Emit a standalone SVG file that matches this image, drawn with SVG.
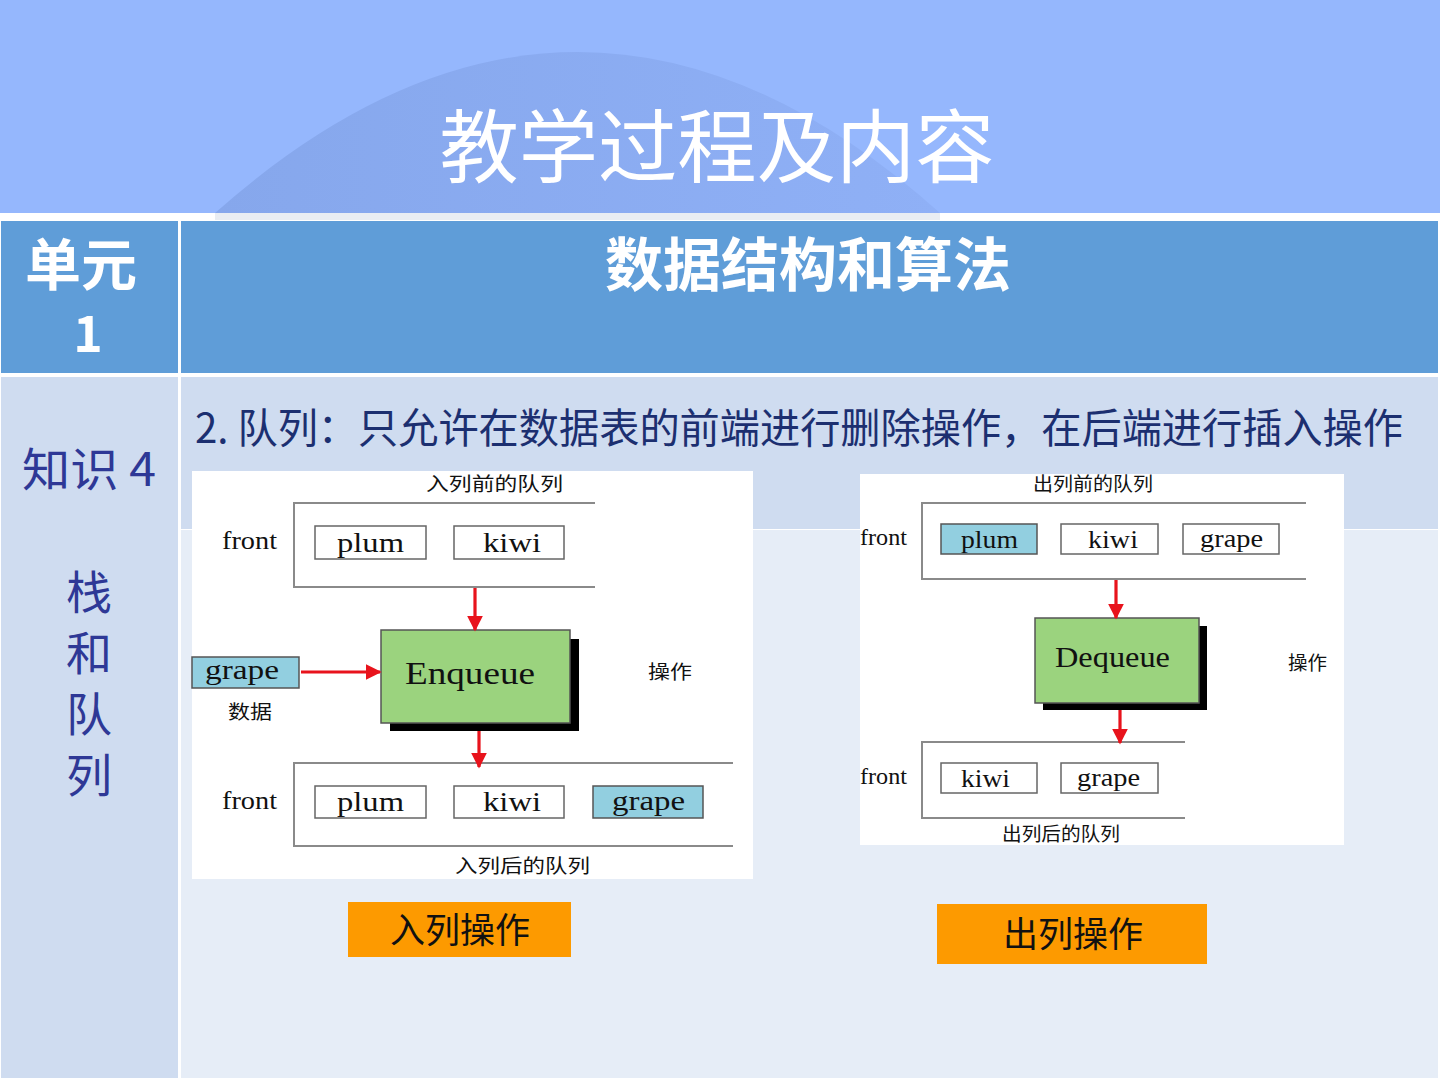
<svg xmlns="http://www.w3.org/2000/svg" width="1440" height="1080" viewBox="0 0 1440 1080">
<defs>
<linearGradient id="arch" x1="0" y1="0" x2="1" y2="0">
<stop offset="0" stop-color="#86a7ec"/>
<stop offset="1" stop-color="#8fb0f6"/>
</linearGradient>
<marker id="ah" viewBox="0 0 10 10" refX="9" refY="5" markerWidth="5" markerHeight="5" orient="auto" markerUnits="strokeWidth">
<path d="M0,0 L10,5 L0,10 Z" fill="#e8131c"/>
</marker>
<style>
.cjk{font-family:"Noto Sans CJK SC","Noto Sans",sans-serif}
.ser{font-family:"Liberation Serif","Times New Roman",serif;fill:#111}
.cell{stroke:#666;stroke-width:1.5;fill:#fff}
.cont{fill:none;stroke:#8a8a8a;stroke-width:2}
.arr{stroke:#e8131c;stroke-width:3.2;fill:none;marker-end:url(#ah)}
.green{fill:#9bd37e;stroke:#555;stroke-width:1.5}
.lbl{font-size:19px;fill:#111}
.left{font-size:46px;fill:#2e3896}
</style>
</defs>
<rect x="0" y="0" width="1440" height="1080" fill="#ffffff"/>
<rect x="0" y="0" width="1440" height="213" fill="#95b7fd"/>
<path d="M215,213 Q578,-109 940,213 Z" fill="url(#arch)"/>
<rect x="215" y="213" width="725" height="7" fill="#e4e8f0" opacity="0.8"/>
<text class="cjk" x="717" y="176" font-size="80" fill="#ffffff" text-anchor="middle" textLength="555" lengthAdjust="spacingAndGlyphs">教学过程及内容</text>

<g id="table">
<rect x="1" y="221" width="177" height="152" fill="#5f9dd8"/>
<rect x="181" y="221" width="1257" height="152" fill="#5f9dd8"/>
<rect x="1" y="377" width="177" height="701" fill="#cfdcf0"/>
<rect x="181" y="377" width="1257" height="152" fill="#cfdcf0"/>
<rect x="181" y="530" width="1257" height="548" fill="#e6edf7"/>
</g>

<g id="unit">
<text class="cjk" x="81" y="285" font-size="56" font-weight="bold" fill="#ffffff" text-anchor="middle">单元</text>
<text class="cjk" x="88" y="352" font-size="50" font-weight="bold" fill="#ffffff" text-anchor="middle">1</text>
</g>
<g id="heading">
<text class="cjk" x="808" y="286" font-size="58" font-weight="bold" fill="#ffffff" text-anchor="middle">数据结构和算法</text>
</g>
<g id="knowledge">
<text class="cjk left" x="89" y="486" text-anchor="middle" textLength="134" lengthAdjust="spacingAndGlyphs">知识 4</text>
<text class="cjk left" x="89" y="609" text-anchor="middle">栈</text>
<text class="cjk left" x="89" y="670" text-anchor="middle">和</text>
<text class="cjk left" x="89" y="731" text-anchor="middle">队</text>
<text class="cjk left" x="89" y="792" text-anchor="middle">列</text>
</g>
<g id="subtitle">
<text class="cjk" x="195" y="443" font-size="41" fill="#1c2f70" textLength="1208" lengthAdjust="spacingAndGlyphs">2. 队列：只允许在数据表的前端进行删除操作，在后端进行插入操作</text>
</g>

<g id="enqueue-diagram">
<rect x="192" y="471" width="561" height="408" fill="#ffffff"/>
<text class="cjk lbl" x="426" y="491" textLength="137" lengthAdjust="spacingAndGlyphs">入列前的队列</text>
<path class="cont" d="M595,503 H294 V587 H595"/>
<text class="ser" x="222" y="549" font-size="25" textLength="55" lengthAdjust="spacingAndGlyphs">front</text>
<g id="e-plum1"><rect class="cell" x="315" y="526" width="111" height="33"/><text class="ser" x="337" y="552" font-size="28" textLength="67" lengthAdjust="spacingAndGlyphs">plum</text></g>
<g id="e-kiwi1"><rect class="cell" x="454" y="526" width="110" height="33"/><text class="ser" x="483" y="552" font-size="28" textLength="58" lengthAdjust="spacingAndGlyphs">kiwi</text></g>
<g id="enqueue">
<rect x="390" y="639" width="189" height="92" fill="#000"/>
<rect class="green" x="381" y="630" width="189" height="93"/>
<text class="ser" x="405" y="684" font-size="32" textLength="130" lengthAdjust="spacingAndGlyphs">Enqueue</text>
</g>
<g id="e-grape-in"><rect x="192" y="657" width="107" height="31" fill="#92cfe0" stroke="#555" stroke-width="1.5"/><text class="ser" x="205" y="679" font-size="27" textLength="74" lengthAdjust="spacingAndGlyphs">grape</text></g>
<text class="cjk lbl" x="228" y="719" textLength="44" lengthAdjust="spacingAndGlyphs">数据</text>
<text class="cjk lbl" x="648" y="679" textLength="44" lengthAdjust="spacingAndGlyphs">操作</text>
<path class="cont" d="M733,763 H294 V846 H733"/>
<text class="ser" x="222" y="809" font-size="25" textLength="55" lengthAdjust="spacingAndGlyphs">front</text>
<g id="e-plum2"><rect class="cell" x="315" y="786" width="111" height="32"/><text class="ser" x="337" y="811" font-size="28" textLength="67" lengthAdjust="spacingAndGlyphs">plum</text></g>
<g id="e-kiwi2"><rect class="cell" x="454" y="786" width="110" height="32"/><text class="ser" x="483" y="811" font-size="28" textLength="58" lengthAdjust="spacingAndGlyphs">kiwi</text></g>
<g id="e-grape2"><rect x="593" y="786" width="110" height="32" fill="#92cfe0" stroke="#555" stroke-width="1.5"/><text class="ser" x="612" y="810" font-size="27" textLength="73" lengthAdjust="spacingAndGlyphs">grape</text></g>
<text class="cjk lbl" x="455" y="873" textLength="135" lengthAdjust="spacingAndGlyphs">入列后的队列</text>
</g>

<g id="dequeue-diagram">
<rect x="860" y="474" width="484" height="371" fill="#ffffff"/>
<text class="cjk lbl" x="1033" y="491" textLength="120" lengthAdjust="spacingAndGlyphs">出列前的队列</text>
<path class="cont" d="M1306,503 H922 V579 H1306"/>
<text class="ser" x="860" y="545" font-size="23" textLength="47" lengthAdjust="spacingAndGlyphs">front</text>
<g id="d-plum1"><rect x="941" y="524" width="96" height="30" fill="#92cfe0" stroke="#555" stroke-width="1.5"/><text class="ser" x="961" y="548" font-size="25" textLength="57" lengthAdjust="spacingAndGlyphs">plum</text></g>
<g id="d-kiwi1"><rect class="cell" x="1061" y="524" width="97" height="30"/><text class="ser" x="1088" y="548" font-size="25" textLength="50" lengthAdjust="spacingAndGlyphs">kiwi</text></g>
<g id="d-grape1"><rect class="cell" x="1183" y="524" width="96" height="30"/><text class="ser" x="1200" y="547" font-size="25" textLength="63" lengthAdjust="spacingAndGlyphs">grape</text></g>
<g id="dequeue">
<rect x="1043" y="626" width="164" height="84" fill="#000"/>
<rect class="green" x="1035" y="618" width="164" height="85"/>
<text class="ser" x="1055" y="667" font-size="30" textLength="115" lengthAdjust="spacingAndGlyphs">Dequeue</text>
</g>
<text class="cjk lbl" x="1288" y="670" textLength="39" lengthAdjust="spacingAndGlyphs">操作</text>
<path class="cont" d="M1185,742 H922 V818 H1185"/>
<text class="ser" x="860" y="784" font-size="23" textLength="47" lengthAdjust="spacingAndGlyphs">front</text>
<g id="d-kiwi2"><rect class="cell" x="941" y="763" width="96" height="30"/><text class="ser" x="961" y="787" font-size="25" textLength="49" lengthAdjust="spacingAndGlyphs">kiwi</text></g>
<g id="d-grape2"><rect class="cell" x="1061" y="763" width="97" height="30"/><text class="ser" x="1077" y="786" font-size="25" textLength="63" lengthAdjust="spacingAndGlyphs">grape</text></g>
<text class="cjk lbl" x="1002" y="841" textLength="118" lengthAdjust="spacingAndGlyphs">出列后的队列</text>
</g>

<g id="connectors">
<line class="arr" x1="475" y1="588" x2="475" y2="630"/>
<line class="arr" x1="301" y1="672" x2="380" y2="672"/>
<line class="arr" x1="479" y1="731" x2="479" y2="767"/>
<line class="arr" x1="1116" y1="580" x2="1116" y2="618"/>
<line class="arr" x1="1120" y1="710" x2="1120" y2="743"/>
</g>

<g id="btn-enqueue">
<rect x="348" y="902" width="223" height="55" fill="#fd9a00"/>
<text class="cjk" x="460" y="943" font-size="35" fill="#111" text-anchor="middle">入列操作</text>
</g>
<g id="btn-dequeue">
<rect x="937" y="904" width="270" height="60" fill="#fd9a00"/>
<text class="cjk" x="1073" y="947" font-size="35" fill="#111" text-anchor="middle">出列操作</text>
</g>
</svg>
